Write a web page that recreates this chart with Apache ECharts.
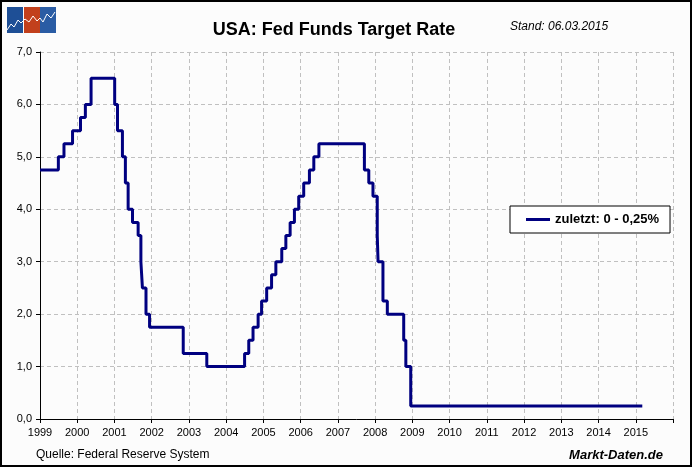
<!DOCTYPE html>
<html>
<head>
<meta charset="utf-8">
<script src="https://cdn.jsdelivr.net/npm/echarts@6/dist/echarts.min.js"></script>
<style>
html,body{margin:0;padding:0;background:#fff;}
#c{width:688px;height:463px;border:2px solid #000;background:#fcfcfc;}
</style>
</head>
<body>
<div id="c"></div>
<script>
// Fed funds target rate changes (date of change, new rate in %)
var changeDates = ['1999-01-01','1999-06-30','1999-08-24','1999-11-16','2000-02-02','2000-03-21','2000-05-16',
  '2001-01-03','2001-01-31','2001-03-20','2001-04-18','2001-05-15','2001-06-27','2001-08-21','2001-09-17',
  '2001-10-02','2001-11-06','2001-12-11','2002-11-06','2003-06-25','2004-06-30','2004-08-10','2004-09-21',
  '2004-11-10','2004-12-14','2005-02-02','2005-03-22','2005-05-03','2005-06-30','2005-08-09','2005-09-20',
  '2005-11-01','2005-12-13','2006-01-31','2006-03-28','2006-05-10','2006-06-29','2007-09-18','2007-10-31',
  '2007-12-11','2008-01-22','2008-01-30','2008-03-18','2008-04-30','2008-10-08','2008-10-29','2008-12-16',
  '2015-03-06'];
var rates = [4.75,5.00,5.25,5.50,5.75,6.00,6.50,
  6.00,5.50,5.00,4.50,4.00,3.75,3.50,3.00,
  2.50,2.00,1.75,1.25,1.00,1.25,1.50,1.75,
  2.00,2.25,2.50,2.75,3.00,3.25,3.50,3.75,
  4.00,4.25,4.50,4.75,5.00,5.25,4.75,4.50,
  4.25,3.50,3.00,2.25,2.00,1.50,1.00,0.25,
  0.25];
var yearTicks = [1999,2000,2001,2002,2003,2004,2005,2006,2007,2008,2009,2010,2011,2012,2013,2014,2015];
var seriesName = 'zuletzt: 0 - 0,25%';

function decYear(s){
  var d = new Date(s + 'T00:00:00Z');
  var y = d.getUTCFullYear();
  var a = Date.UTC(y,0,1), b = Date.UTC(y+1,0,1);
  return y + (d.getTime()-a)/(b-a);
}
var data = changeDates.map(function(s,i){ return [decYear(s), rates[i]]; });

var chart = echarts.init(document.getElementById('c'));
var font = 'Liberation Sans, Arial, sans-serif';
chart.setOption({
  backgroundColor: '#fcfcfc',
  animation: false,
  title: [{
    text: 'USA: Fed Funds Target Rate',
    left: 327, top: 14, textAlign: 'center',
    textStyle: {fontFamily: font, fontSize: 18, fontWeight: 'bold', color: '#000'}
  },{
    text: 'Stand: 06.03.2015',
    left: 503, top: 14,
    textStyle: {fontFamily: font, fontSize: 12, fontStyle: 'italic', fontWeight: 'normal', color: '#000'}
  },{
    text: 'Quelle: Federal Reserve System',
    left: 29, top: 442,
    textStyle: {fontFamily: font, fontSize: 12, fontWeight: 'normal', color: '#000'}
  },{
    text: 'Markt-Daten.de',
    right: 22, top: 442,
    textStyle: {fontFamily: font, fontSize: 13, fontStyle: 'italic', fontWeight: 'bold', color: '#000'}
  }],
  legend: {
    left: 508, top: 204,
    padding: [7, 11, 7, 16],
    backgroundColor: '#fff',
    borderColor: '#000', borderWidth: 1,
    itemWidth: 24, itemHeight: 3, itemGap: 5,
    textStyle: {fontFamily: font, fontSize: 13, fontWeight: 'bold', color: '#000'},
    data: [{name: seriesName, icon: 'rect', itemStyle: {color: '#000080'}}]
  },
  grid: {left: 38, right: 17, top: 50, bottom: 46, containLabel: false},
  xAxis: {
    type: 'value', min: 1999, max: 2016, interval: 1,
    axisLine: {lineStyle: {color: '#000', width: 1}},
    axisTick: {length: 4, lineStyle: {color: '#000'}},
    axisLabel: {
      fontFamily: font, fontSize: 11, color: '#000', margin: 8,
      formatter: function(v){ return yearTicks.indexOf(v) >= 0 ? String(v) : ''; }
    },
    splitLine: {show: true, lineStyle: {color: '#c0c0c0', type: [4, 3], width: 1}}
  },
  yAxis: {
    type: 'value', min: 0, max: 7, interval: 1,
    axisLine: {show: true, lineStyle: {color: '#000', width: 1}},
    axisTick: {show: true, length: 4, lineStyle: {color: '#000'}},
    axisLabel: {
      fontFamily: font, fontSize: 11, color: '#000', margin: 8,
      formatter: function(v){ return v.toFixed(1).replace('.', ','); }
    },
    splitLine: {show: true, lineStyle: {color: '#c0c0c0', type: [4, 3], width: 1}}
  },
  graphic: [
    {type: 'rect', shape: {x: 5, y: 5, width: 16, height: 26}, style: {fill: '#1e4f96'}},
    {type: 'rect', shape: {x: 22, y: 5, width: 16, height: 26}, style: {fill: '#c2401c'}},
    {type: 'rect', shape: {x: 38, y: 5, width: 16, height: 26}, style: {fill: '#2a5ca4'}},
    {type: 'polyline', shape: {points: [[5,28],[9,22],[12,25],[16,18],[19,21],[23,17],[27,20],[31,14],[35,19],[38,16],[41,20],[45,12],[49,16],[53,10]]},
      style: {stroke: '#fff', lineWidth: 1, fill: null}}
  ],
  series: [{
    name: seriesName,
    type: 'line',
    step: 'end',
    data: data,
    symbol: 'none',
    lineStyle: {color: '#000080', width: 3},
    itemStyle: {color: '#000080'}
  }]
});
</script>
</body>
</html>
